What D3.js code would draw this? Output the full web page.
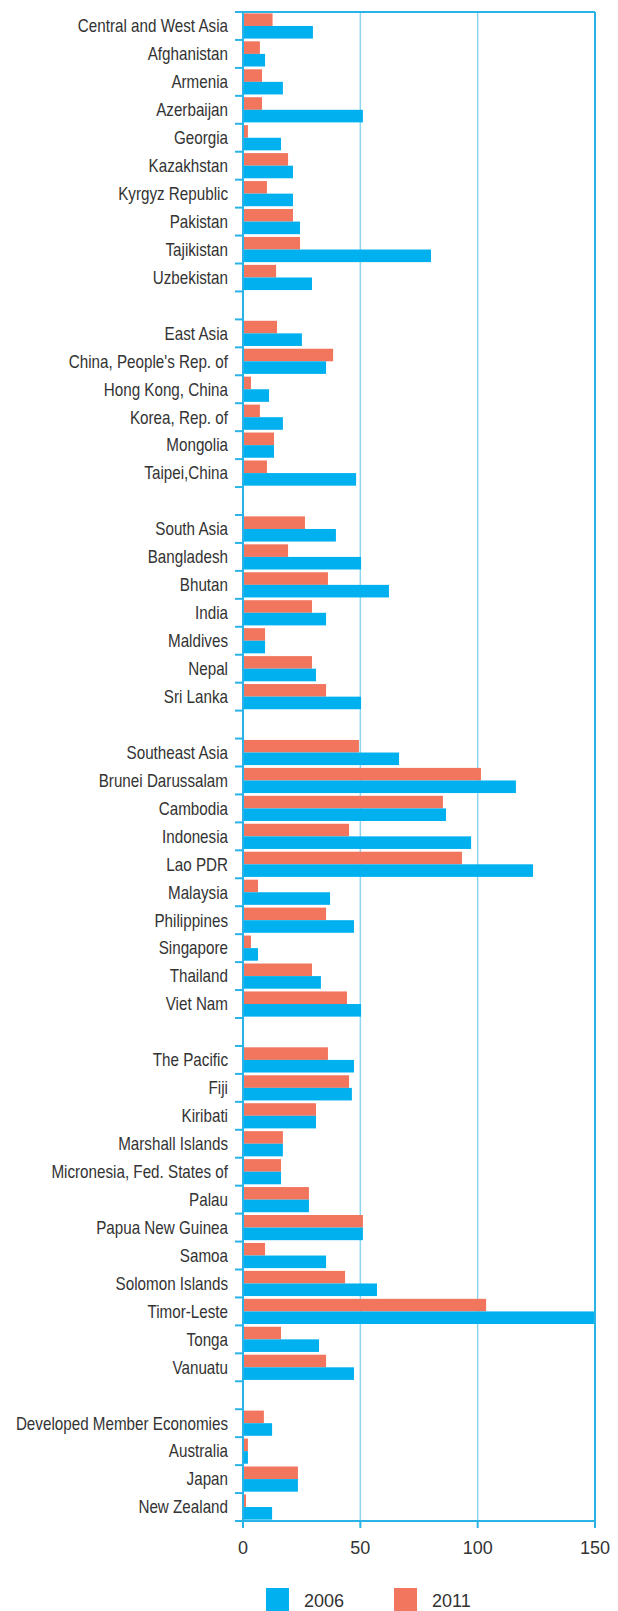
<!DOCTYPE html>
<html>
<head>
<meta charset="utf-8">
<script src="https://cdn.jsdelivr.net/npm/d3@7"></script>
<style>
  body { margin: 0; background: #fff; }
  #chart svg { display: block; }
  .cat-label { font-family: "Liberation Sans", Arial, sans-serif; font-size: 18px; fill: #333; }
  .tick-label, .legend-label { font-family: "Liberation Sans", Arial, sans-serif; font-size: 18px; fill: #333; }
</style>
</head>
<body>
<div id="chart"></div>
<script>
// Country / region categories, "" marks an empty gap row between groups
const categories = [
    "Central and West Asia", "Afghanistan", "Armenia", "Azerbaijan", "Georgia", "Kazakhstan",
    "Kyrgyz Republic", "Pakistan", "Tajikistan", "Uzbekistan", "",
    "East Asia", "China, People's Rep. of", "Hong Kong, China", "Korea, Rep. of", "Mongolia", "Taipei,China", "",
    "South Asia", "Bangladesh", "Bhutan", "India", "Maldives", "Nepal", "Sri Lanka", "",
    "Southeast Asia", "Brunei Darussalam", "Cambodia", "Indonesia", "Lao PDR", "Malaysia",
    "Philippines", "Singapore", "Thailand", "Viet Nam", "",
    "The Pacific", "Fiji", "Kiribati", "Marshall Islands", "Micronesia, Fed. States of", "Palau",
    "Papua New Guinea", "Samoa", "Solomon Islands", "Timor-Leste", "Tonga", "Vanuatu", "",
    "Developed Member Economies", "Australia", "Japan", "New Zealand"
];

// values (null for gap rows)
const values2006 = [
    29.8, 9.4, 17.0, 51.1, 16.2, 21.3, 21.3, 24.3, 80.1, 29.4, null,
    25.1, 35.4, 11.1, 17.0, 13.2, 48.2, null,
    39.6, 50.3, 62.2, 35.4, 9.4, 31.1, 50.3, null,
    66.5, 116.3, 86.5, 97.2, 123.6, 37.1, 47.3, 6.4, 33.2, 50.3, null,
    47.3, 46.4, 31.1, 17.0, 16.2, 28.1, 51.1, 35.4, 57.1, 150, 32.4, 47.3, null,
    12.4, 2.1, 23.4, 12.4
];
const values2011 = [
    12.6, 7.2, 8.1, 8.1, 2.1, 19.2, 10.2, 21.3, 24.3, 14.1, null,
    14.5, 38.4, 3.4, 7.2, 13.2, 10.2, null,
    26.4, 19.2, 36.2, 29.4, 9.4, 29.4, 35.4, null,
    49.4, 101.4, 85.2, 45.2, 93.3, 6.4, 35.4, 3.4, 29.4, 44.3, null,
    36.2, 45.2, 31.1, 17.0, 16.2, 28.1, 51.1, 9.4, 43.5, 103.6, 16.2, 35.4, null,
    8.9, 2.1, 23.4, 1.3
];
const seriesNames = ["2011", "2006"];   // top-to-bottom order inside each row
const legendNames = ["2006", "2011"];
const xTicks = [0, 50, 100, 150];

const colors = { "2006": "#00b0ef", "2011": "#f2755e" };
const frameColor = "#29b3e6";
const gridColor = "#8dd6f2";

const width = 618, height = 1611;
const margin = { top: 12, right: 23, bottom: 90, left: 243 };
const innerW = width - margin.left - margin.right;
const innerH = height - margin.top - margin.bottom;

// unique keys so gap rows don't collapse in the band scale
const rows = categories.map((c, i) => ({
    key: "r" + i,
    label: c,
    "2006": values2006[i],
    "2011": values2011[i]
}));

const svg = d3.select("#chart").append("svg")
    .attr("width", width)
    .attr("height", height);

const g = svg.append("g").attr("transform", `translate(${margin.left},${margin.top})`);

const x = d3.scaleLinear().domain([0, 150]).range([0, innerW]);
const y = d3.scaleBand().domain(rows.map(d => d.key)).range([0, innerH]).padding(0);
const y1 = d3.scaleBand().domain(seriesNames).range([0, y.bandwidth()]).paddingInner(0).paddingOuter(0.11);

// grid lines at 50, 100
g.selectAll(".grid")
    .data(xTicks.filter(t => t > 0 && t < 150))
    .enter().append("line")
    .attr("x1", d => x(d)).attr("x2", d => x(d))
    .attr("y1", 0).attr("y2", innerH)
    .attr("stroke", gridColor)
    .attr("stroke-width", 1.5);

// bars
const rowG = g.selectAll(".row")
    .data(rows.filter(d => d.label !== ""))
    .enter().append("g")
    .attr("transform", d => `translate(0,${y(d.key)})`);

rowG.selectAll("rect")
    .data(d => seriesNames.map(s => ({ s: s, v: d[s] })))
    .enter().append("rect")
    .attr("x", 0)
    .attr("y", d => y1(d.s))
    .attr("width", d => x(Math.min(d.v, 150)))
    .attr("height", y1.bandwidth())
    .attr("fill", d => colors[d.s]);

// category labels (condensed look: squeeze horizontally)
rowG.append("text")
    .attr("class", "cat-label")
    .attr("transform", `translate(-15,${y.bandwidth() / 2}) scale(0.845,1)`)
    .attr("dy", "0.35em")
    .attr("text-anchor", "end")
    .text(d => d.label);

// frame: top and right
g.append("line").attr("x1", 0).attr("x2", innerW).attr("y1", 0).attr("y2", 0)
    .attr("stroke", frameColor).attr("stroke-width", 2);
g.append("line").attr("x1", innerW).attr("x2", innerW).attr("y1", 0).attr("y2", innerH)
    .attr("stroke", frameColor).attr("stroke-width", 2);

// left axis with ticks on band boundaries
const boundaries = d3.range(rows.length + 1).map(i => i * y.step());
g.selectAll(".ytick")
    .data(boundaries)
    .enter().append("line")
    .attr("x1", -8).attr("x2", 0)
    .attr("y1", d => d).attr("y2", d => d)
    .attr("stroke", frameColor).attr("stroke-width", 2);
g.append("line").attr("x1", 0).attr("x2", 0).attr("y1", 0).attr("y2", innerH + 7)
    .attr("stroke", frameColor).attr("stroke-width", 2);

// bottom axis
g.append("line").attr("x1", 0).attr("x2", innerW).attr("y1", innerH).attr("y2", innerH)
    .attr("stroke", frameColor).attr("stroke-width", 2);
g.selectAll(".xtick")
    .data(xTicks)
    .enter().append("line")
    .attr("x1", d => x(d)).attr("x2", d => x(d))
    .attr("y1", innerH).attr("y2", innerH + 7)
    .attr("stroke", frameColor).attr("stroke-width", 2);
g.selectAll(".tick-label")
    .data(xTicks)
    .enter().append("text")
    .attr("class", "tick-label")
    .attr("x", d => x(d))
    .attr("y", innerH + 33)
    .attr("text-anchor", "middle")
    .text(d => d);

// legend
const legendX = d3.scalePoint().domain(legendNames).range([266, 394]);
const lg = svg.selectAll(".legend")
    .data(legendNames)
    .enter().append("g")
    .attr("transform", d => `translate(${legendX(d)},1588)`);
lg.append("rect")
    .attr("width", 23).attr("height", 23)
    .attr("fill", d => colors[d]);
lg.append("text")
    .attr("class", "legend-label")
    .attr("x", 38)
    .attr("y", 19)
    .text(d => d);
</script>
</body>
</html>
